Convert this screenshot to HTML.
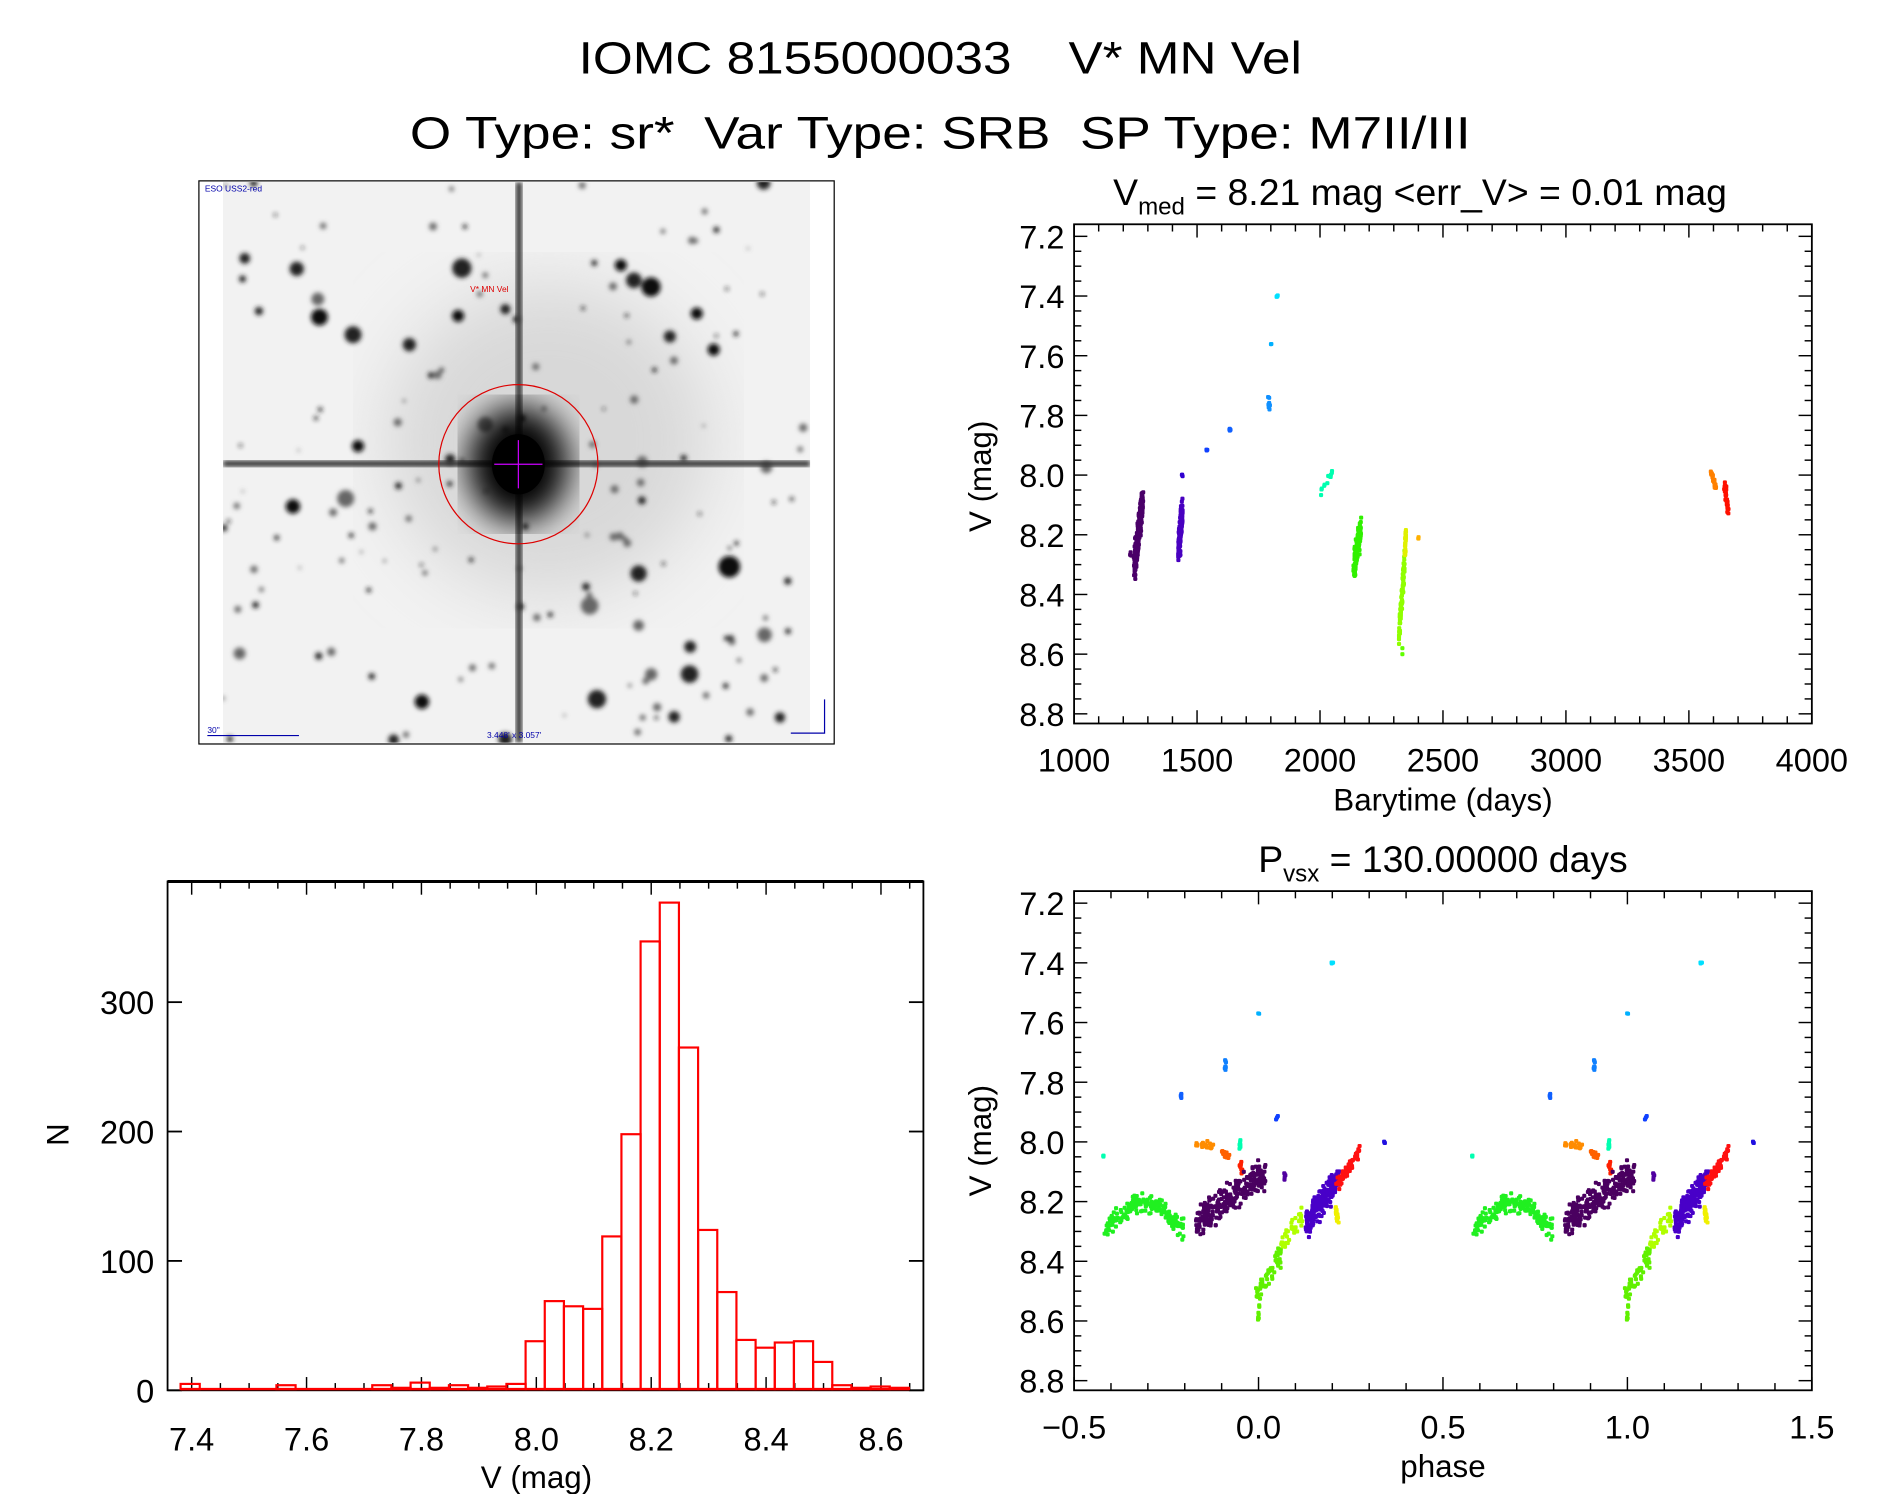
<!DOCTYPE html>
<html><head><meta charset="utf-8"><style>
html,body{margin:0;padding:0;background:#fff;}
svg{display:block;}
text{font-family:"Liberation Sans",sans-serif;fill:#000;white-space:pre;}
</style></head><body>
<svg id="s" width="1889" height="1494" viewBox="0 0 1567 1239" preserveAspectRatio="none" xmlns="http://www.w3.org/2000/svg">
<defs>
<filter id="b1"><feGaussianBlur stdDeviation="2"/></filter>
<filter id="b2"><feGaussianBlur stdDeviation="14"/></filter>
<filter id="b3"><feGaussianBlur stdDeviation="30"/></filter>
<clipPath id="ic"><rect x="185" y="151" width="487" height="465"/></clipPath>
</defs>
<text x="780" y="61" font-size="38" text-anchor="middle" textLength="600" lengthAdjust="spacingAndGlyphs">IOMC 8155000033    V* MN Vel</text>
<text x="780" y="123" font-size="38" text-anchor="middle" textLength="880" lengthAdjust="spacingAndGlyphs">O Type: sr*  Var Type: SRB  SP Type: M7II/III</text>

<rect x="165" y="150" width="527" height="467" fill="#fff" stroke="#000" stroke-width="1"/>
<g clip-path="url(#ic)" id="img">
<rect x="185" y="151" width="487" height="465" fill="#f2f2f2"/>
<ellipse cx="455" cy="365" rx="135" ry="130" fill="#d8d8d8" filter="url(#b3)"/>
<g id="stars" filter="url(#b1)"></g>
<rect x="185" y="382" width="487" height="5" fill="#333" filter="url(#b1)"/>
<rect x="428" y="151" width="5" height="465" fill="#333" filter="url(#b1)"/>
<ellipse cx="430" cy="385" rx="42" ry="48" fill="#000" filter="url(#b2)"/>
<ellipse cx="430" cy="385" rx="22" ry="25" fill="#000"/>
<circle cx="430" cy="385" r="66" fill="none" stroke="#d00" stroke-width="1"/>
<path d="M410 385h40M430 365v40" stroke="#c0f" stroke-width="1"/>
<text x="390" y="242" font-size="7" style="fill:#d00">V* MN Vel</text>
</g>
<text x="170" y="159" font-size="7" style="fill:#00a">ESO USS2-red</text>
<text x="172" y="608" font-size="7" style="fill:#00a">30"</text>
<path d="M172 610h76" stroke="#00a"/>
<text x="404" y="612" font-size="7" style="fill:#00a">3.448' x 3.057'</text>
<path d="M684 580v28h-28" stroke="#00a" fill="none"/>

<text x="1178" y="170" font-size="31" text-anchor="middle">V<tspan font-size="20" dy="8">med</tspan><tspan dy="-8"> = 8.21 mag &lt;err_V&gt; = 0.01 mag</tspan></text>
<rect x="891" y="186" width="612" height="414" fill="none" stroke="#000" stroke-width="1.5"/>
<text x="1197" y="672" font-size="26" text-anchor="middle">Barytime (days)</text>
<text transform="translate(822,395) rotate(-90)" font-size="26" text-anchor="middle">V (mag)</text>

<text x="1197" y="723" font-size="31" text-anchor="middle">P<tspan font-size="20" dy="8">vsx</tspan><tspan dy="-8"> = 130.00000 days</tspan></text>
<rect x="891" y="739" width="612" height="414" fill="none" stroke="#000" stroke-width="1.5"/>
<text x="1197" y="1225" font-size="26" text-anchor="middle">phase</text>
<text transform="translate(822,946) rotate(-90)" font-size="26" text-anchor="middle">V (mag)</text>

<rect x="139" y="731" width="627" height="422" fill="none" stroke="#000" stroke-width="1.5"/>
<path d="M139 731h627" stroke="#000" stroke-width="2.5"/>
<text x="445" y="1234" font-size="26" text-anchor="middle">V (mag)</text>
<text transform="translate(57,941) rotate(-90)" font-size="26" text-anchor="middle">N</text>
<g id="g"></g>
</svg>
<script>
var NS="http://www.w3.org/2000/svg",G=document.getElementById("g");
function el(n,a,p){var e=document.createElementNS(NS,n);for(var k in a)e.setAttribute(k,a[k]);(p||G).appendChild(e);return e;}
function txt(x,y,s,anc,fs){var t=el("text",{x:x,y:y,"font-size":fs||27,"text-anchor":anc||"middle"});t.textContent=s;}
function ln(x1,y1,x2,y2,w){el("line",{x1:x1,y1:y1,x2:x2,y2:y2,stroke:"#000","stroke-width":w||1.2});}
var seed=7;function R(){seed=(seed*16807)%2147483647;return seed/2147483647;}
function N(){return (R()+R()+R()-1.5)/1.5;}
var S=document.getElementById("stars");
for(var i=0;i<160;i++){var x=185+R()*487,y=151+R()*465,r=R()<0.15?4+R()*4:1+R()*2.5;
el("circle",{cx:x,cy:y,r:r,fill:"#"+(R()<0.5?"222":"666")},S);}
[[265,263,7],[540,238,8],[605,470,9],[350,582,6],[243,420,6],[297,370,5],[380,262,5],[515,220,5],[578,260,5],[592,290,5]].forEach(function(s){el("circle",{cx:s[0],cy:s[1],r:s[2],fill:"#111"},S);});
function yaxis(x0,x1,ytop){
 for(var v=7.2;v<=8.801;v+=0.05){var y=ytop+(v-7.2)*247.5;var maj=Math.abs(Math.round(v*5)-v*5)<0.01;
  var L=maj?11:6;ln(x0,y,x0+L,y);ln(x1,y,x1-L,y);
  if(maj)txt(x0-8,y+10,v.toFixed(1),"end");}
}
yaxis(891,1503,196);
yaxis(891,1503,749);
for(var t=1000;t<=4000;t+=100){var x=891+(t-1000)*0.204;var maj=t%500==0;var L=maj?11:6;ln(x,600,x,600-L);ln(x,186,x,186+L);if(maj)txt(x,640,""+t);}
for(var k=0;k<=20;k++){var p=-0.5+k*0.1;var x=891+(p+0.5)*306;var maj=k%5==0;var L=maj?11:6;ln(x,1153,x,1153-L);ln(x,739,x,739+L);
 if(maj)txt(x,1193,(p<0?"\u2212":"")+Math.abs(p).toFixed(1));}
for(var k=0;k<=25;k++){var v=7.4+k*0.05;var x=159+(v-7.4)*476.5;if(x>766)break;var maj=k%4==0;var L=maj?11:6;ln(x,1153,x,1153-L);ln(x,731,x,731+L);if(maj)txt(x,1203,v.toFixed(1));}
[0,100,200,300].forEach(function(n){var y=1153-n*1.073;ln(139,y,151,y,1.5);ln(766,y,754,y,1.5);txt(128,y+10,""+n,"end");});
var H={"-18":4,"-13":3,"-8":3,"-7":1,"-6":5,"-5":1,"-4":3,"-3":1,"-2":2,"-1":4,"0":37,"1":68,"2":64,"3":62,"4":118,"5":197,"6":346,"7":376,"8":264,"9":123,"10":75,"11":38,"12":32,"13":36,"14":37,"15":21,"16":3,"17":1,"18":2,"19":1};
el("line",{x1:150,y1:1152,x2:754,y2:1152,stroke:"#f00","stroke-width":2});
for(var k in H){var x=436+15.9*k,h=H[k]*1.073;el("rect",{x:x,y:1152-h,width:15.9,height:h,fill:"none",stroke:"#f00","stroke-width":1.8});}
function TX(t){return 891+(t-1000)*0.204;}function PX(p){return 891+(p+0.5)*306;}
function MY(m,top){return top+(m-7.2)*247.5;}
function dot(x,y,c){el("rect",{x:x-1.7,y:y-1.7,width:3.4,height:3.4,fill:c,rx:1});}
var TC=[[1245,1280,8.3,8.08,0.08,260,"#4a0068"],[1228,1232,8.26,8.27,0.01,4,"#4a0068"],[1425,1440,8.25,8.12,0.07,200,"#4800c0"],[1440,1442,8.0,8.0,0.01,3,"#3000d0"],[1540,1542,7.92,7.92,0.01,3,"#1040ff"],[1633,1636,7.85,7.85,0.02,5,"#1060ff"],[1790,1795,7.76,7.76,0.04,10,"#1090ff"],[1800,1801,7.56,7.56,0.003,2,"#00b0ff"],[1825,1826,7.4,7.4,0.008,4,"#00e0ff"],[2000,2050,8.06,7.99,0.025,12,"#00ffb0"],[2138,2165,8.3,8.18,0.07,160,"#30f000"],[2320,2345,8.55,8.28,0.05,90,"#90ff00"],[2345,2350,8.27,8.18,0.03,25,"#e0f000"],[2400,2402,8.21,8.21,0.005,3,"#ffb000"],[3590,3612,7.99,8.05,0.015,30,"#ff8000"],[3645,3660,8.03,8.12,0.03,40,"#ff1000"]];
TC.forEach(function(c){for(var i=0;i<c[5];i++){var f=R(),t=c[0]+(c[1]-c[0])*f+N()*4,m=c[2]+(c[3]-c[2])*f+N()*c[4];dot(TX(t),MY(m,196),c[6]);}});
dot(TX(2335),MY(8.58,196),"#60ff00");dot(TX(2335),MY(8.6,196),"#60ff00");
var PC=[[0.2,0.2,7.4,7.4,0.005,4,"#00e0ff"],[0.0,0.0,7.57,7.57,0.002,2,"#00b0ff"],[-0.09,-0.09,7.75,7.75,0.03,8,"#1080ff"],[-0.21,-0.21,7.85,7.85,0.02,5,"#1060ff"],[0.05,0.05,7.92,7.92,0.01,3,"#1040ff"],[0.34,0.34,8.0,8.0,0.01,3,"#2010e0"],
[-0.42,-0.42,8.05,8.05,0.01,3,"#00ffb0"],[-0.05,-0.05,8.01,8.01,0.03,8,"#00ffb0"],[-0.17,-0.12,8.0,8.02,0.025,25,"#ff8c00"],[-0.1,-0.08,8.03,8.05,0.02,15,"#ff6000"],[-0.05,-0.04,8.08,8.1,0.02,12,"#ff2000"],
[-0.42,-0.33,8.3,8.2,0.05,70,"#20f020"],[-0.33,-0.26,8.2,8.23,0.05,60,"#20f020"],[-0.26,-0.2,8.23,8.3,0.05,60,"#20f020"],
[-0.17,0.02,8.27,8.1,0.07,260,"#4a0060"],[0.07,0.07,8.12,8.12,0.02,5,"#5000a0"],
[-0.005,0.06,8.52,8.38,0.05,60,"#60f000"],[0.0,0.0,8.55,8.62,0.03,8,"#60f000"],[0.06,0.12,8.35,8.25,0.04,40,"#b0ff00"],
[0.13,0.22,8.27,8.12,0.07,220,"#4800c8"],[0.21,0.215,8.22,8.27,0.02,15,"#f0f000"],[0.21,0.28,8.15,8.02,0.03,60,"#ff1010"]];
PC.forEach(function(c){for(var i=0;i<c[5];i++){var f=R(),p=c[0]+(c[1]-c[0])*f+N()*0.004,m=c[2]+(c[3]-c[2])*f+N()*c[4],y=MY(m,749);dot(PX(p),y,c[6]);dot(PX(p+1),y,c[6]);}});
</script>
</body></html>
